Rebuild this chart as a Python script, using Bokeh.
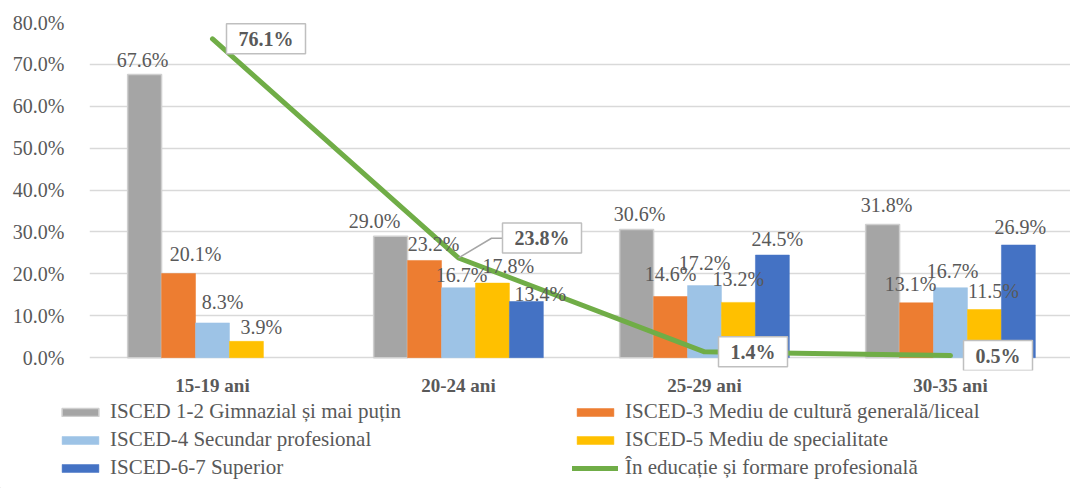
import numpy as np
from bokeh.plotting import figure
from bokeh.layouts import column
from bokeh.models import (ColumnDataSource, Range1d, FixedTicker, LabelSet, Label,
                          Legend, LegendItem)
from bokeh.core.properties import value
from bokeh.embed import file_html
from bokeh.resources import INLINE

# ---------------- data ----------------
categories = ["15-19 ani", "20-24 ani", "25-29 ani", "30-35 ani"]
series_names = [
    "ISCED 1-2 Gimnazial și mai puțin",
    "ISCED-3 Mediu de cultură generală/liceal",
    "ISCED-4 Secundar profesional",
    "ISCED-5 Mediu de specialitate",
    "ISCED-6-7 Superior",
]
isced_1_2 = [67.6, 29.0, 30.6, 31.8]
isced_3 = [20.1, 23.2, 14.6, 13.1]
isced_4 = [8.3, 16.7, 17.2, 16.7]
isced_5 = [3.9, 17.8, 13.2, 11.5]
isced_6_7 = [np.nan, 13.4, 24.5, 26.9]
line_name = "În educație și formare profesională"
in_education = [76.1, 23.8, 1.4, 0.5]
y_ticks = [0.0, 10.0, 20.0, 30.0, 40.0, 50.0, 60.0, 70.0, 80.0]

# ---------------- style ----------------
colors = ["#a5a5a5", "#ed7d31", "#9dc3e6", "#ffc000", "#4472c4"]
green = "#70ad47"
txt = "#595959"
FONT = "Liberation Serif"
W, H1, H2 = 1070, 398, 90
L, T = 89, 22
axis_px = 340            # pixel height of the 0..80% span
pad_px = 13              # room below 0% so callouts are not clipped
B = H1 - T - axis_px - pad_px
frame_w = W - L
group_px = 246.0
bar_w = 0.138

series = [isced_1_2, isced_3, isced_4, isced_5, isced_6_7]
pos = np.arange(len(categories)) + 0.5
unit_per_px = (y_ticks[-1] - y_ticks[0]) / axis_px
y_start = y_ticks[0] - pad_px * unit_per_px

p = figure(width=W, height=H1, output_backend="svg", toolbar_location=None,
           x_range=Range1d(0, frame_w / group_px), y_range=Range1d(y_start, y_ticks[-1]),
           min_border_left=L, min_border_right=0, min_border_top=T, min_border_bottom=B)
p.frame_align = False
p.outline_line_color = None
p.background_fill_color = "white"
p.border_fill_color = "white"

p.xgrid.grid_line_color = None
p.ygrid.grid_line_color = "#d9d9d9"
p.ygrid.grid_line_width = 1.5
p.yaxis.ticker = FixedTicker(ticks=y_ticks)
p.yaxis.major_label_overrides = {t: f"{t:.1f}%" for t in y_ticks}
p.xaxis.ticker = FixedTicker(ticks=list(pos))
p.xaxis.major_label_overrides = {float(x): c for x, c in zip(pos, categories)}
for ax in (p.xaxis[0], p.yaxis[0]):
    ax.major_tick_line_color = None
    ax.minor_tick_line_color = None
    ax.axis_line_color = None
    ax.major_label_text_font = FONT
    ax.major_label_text_color = txt
p.yaxis.major_label_text_font_size = "20px"
p.yaxis.major_label_standoff = 19
p.xaxis.major_label_text_font_size = "19px"
p.xaxis.major_label_text_font_style = "bold"
p.xaxis.major_label_standoff = -2

# label nudges (px): horizontal shift and gap above bar top
nudge_dx = [[-2, -16, 3, 4], [17, 9, 0, -6], [10, 3, 0, 2], [15, 16, 0, 9], [0, 14, 5, 2]]
nudge_gap = [[3, 4, 4, 8], [8, 5, 12, 8], [10, 2, 12, 6], [3, 6, 12, 8], [0, -3, 5, 7]]

for k, (vals, col) in enumerate(zip(series, colors)):
    xs = pos + (k - (len(series) - 1) / 2) * bar_w
    src = ColumnDataSource(dict(x=xs, top=vals))
    p.vbar(x="x", top="top", width=bar_w, source=src, fill_color=col,
           line_color="#cfcfcf" if k == 0 else col, line_width=1.5 if k == 0 else 0.5)
    keep = [i for i, v in enumerate(vals) if not np.isnan(v)]
    lsrc = ColumnDataSource(dict(
        x=[xs[i] for i in keep], y=[vals[i] for i in keep],
        text=[f"{vals[i]:.1f}%" for i in keep],
        dx=[nudge_dx[k][i] for i in keep], dy=[nudge_gap[k][i] for i in keep]))
    p.add_layout(LabelSet(x="x", y="y", text="text", x_offset="dx", y_offset="dy", source=lsrc,
                          text_align="center", text_baseline="bottom",
                          text_font=value(FONT), text_font_size="20px", text_color=txt))

p.line(pos, in_education, line_color=green, line_width=5,
       line_join="round", line_cap="round")

# callout labels for the line (box offset from point, px)
callout_off = [(14, 0), (44, 20), (14, 0), (13, 0)]
px_x = (frame_w / group_px) / frame_w
for x, v, (ox, oy) in zip(pos, in_education, callout_off):
    if oy > 10:
        lx = [x, x + 33 * px_x, x + ox * px_x]
        ly = [v, v + oy * unit_per_px, v + oy * unit_per_px]
        p.line(lx, ly, line_color="#a6a6a6", line_width=1.5)
    p.add_layout(Label(x=x, y=v, x_offset=ox, y_offset=oy, text=f"{v:.1f}%",
                       text_align="left", text_baseline="middle",
                       text_font=FONT, text_font_style="bold", text_font_size="20px",
                       text_color=txt, background_fill_color="white",
                       border_line_color="#bfbfbf", border_line_width=1.5,
                       padding=(12, 4)))

# ---------------- legend strip ----------------
lg = figure(width=W, height=H2, output_backend="svg", toolbar_location=None,
            x_range=Range1d(500, 501), y_range=Range1d(500, 501), x_axis_type=None,
            y_axis_type=None, min_border=0)
lg.frame_align = False
lg.outline_line_color = None
lg.grid.grid_line_color = None
leg_r = []
for k, (vals, c) in enumerate(zip(series, colors)):
    leg_r.append(lg.vbar(x=pos, top=vals, width=bar_w, fill_color=c,
                         line_color="#cfcfcf" if k == 0 else c,
                         line_width=1.5 if k == 0 else 0.5))
leg_r.append(lg.line(pos, in_education, line_color=green, line_width=5, line_cap="round"))
names = series_names + [line_name]
items = [LegendItem(label=n, renderers=[r]) for n, r in zip(names, leg_r)]
legend = Legend(items=items, location=(57, 8), orientation="horizontal", ncols=2,
                glyph_width=46, glyph_height=10, label_standoff=7, label_width=459,
                spacing=3, padding=0, margin=0, border_line_color=None,
                background_fill_alpha=0, label_text_font=FONT,
                label_text_font_size="21px", label_text_color=txt)
lg.add_layout(legend)

open("out.html", "w").write(file_html(column(p, lg, spacing=0), INLINE))
